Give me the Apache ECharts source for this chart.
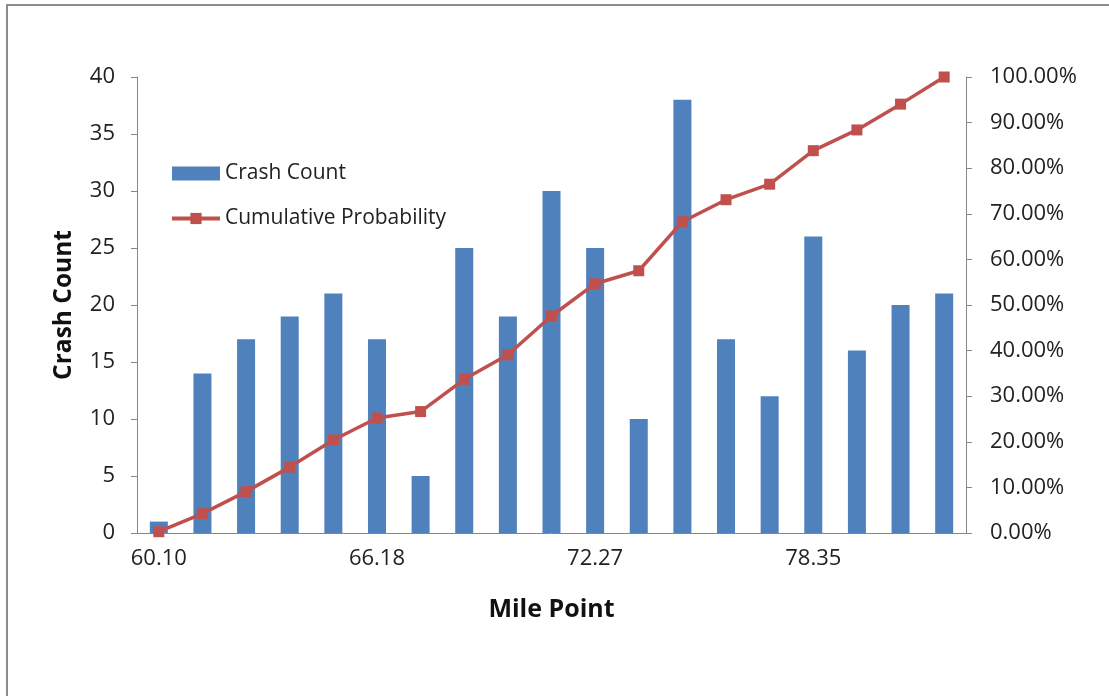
<!DOCTYPE html>
<html><head><meta charset="utf-8">
<script src="https://cdn.jsdelivr.net/npm/echarts@6/dist/echarts.min.js"></script>
<style>html,body{margin:0;padding:0;background:#fff}#c{width:1109px;height:696px}</style>
</head><body><div id="c"></div>
<script>
const milePoints = ['60.10','61.32','62.53','63.75','64.97','66.18','67.40','68.62','69.83','71.05','72.27','73.48','74.70','75.92','77.13','78.35','79.57','80.78','82.00'];
const crashCount = [1,14,17,19,21,17,5,25,19,30,25,10,38,17,12,26,16,20,21];
const cumulativeProb = [0.0028,0.0425,0.0907,0.1445,0.2040,0.2521,0.2663,0.3371,0.3909,0.4759,0.5467,0.5751,0.6827,0.7309,0.7649,0.8385,0.8839,0.9405,1.0000];
const countTicks = {min:0, max:40, interval:5};
const probTicks = {min:0, max:1, interval:0.1};

const font = '"Open Sans", Lato, sans-serif';
const axisGray = '#868686';
const chart = echarts.init(document.getElementById('c'));
chart.setOption({
  animation:false,
  textStyle:{fontFamily:font},
  graphic:[{type:'rect',shape:{x:7,y:5,width:1130,height:720},style:{fill:'none',stroke:'#8c8c8c',lineWidth:2},silent:true}],
  grid:{left:137,right:143,top:77,bottom:163},
  legend:{
    orient:'vertical',left:165,top:158,itemWidth:48,itemHeight:14,itemGap:24,
    textStyle:{fontSize:21,color:'#222',fontFamily:font},
    data:[{name:'Crash Count',icon:'rect'},{name:'Cumulative Probability'}],
    lineStyle:{width:4}
  },
  xAxis:{
    type:'category',data:milePoints,boundaryGap:true,
    name:'Mile Point',nameLocation:'middle',nameGap:64,
    nameTextStyle:{fontSize:25,fontWeight:'bold',color:'#111',fontFamily:font},
    axisLine:{lineStyle:{color:axisGray,width:1}},
    axisTick:{interval:4,length:6,lineStyle:{color:axisGray}},
    axisLabel:{interval:4,fontSize:22,color:'#222',margin:15},
    splitLine:{show:false}
  },
  yAxis:[{
    type:'value',min:countTicks.min,max:countTicks.max,interval:countTicks.interval,
    name:'Crash Count',nameLocation:'middle',nameGap:60,nameRotate:90,
    nameTextStyle:{fontSize:24.5,fontWeight:'bold',color:'#111',fontFamily:font},
    axisLine:{show:true,lineStyle:{color:axisGray}},
    axisTick:{show:true,length:6,lineStyle:{color:axisGray}},
    axisLabel:{fontSize:22,color:'#222',margin:22},
    splitLine:{show:false}
  },{
    type:'value',min:probTicks.min,max:probTicks.max,interval:probTicks.interval,position:'right',
    axisLine:{show:true,lineStyle:{color:axisGray}},
    axisTick:{show:true,length:6,lineStyle:{color:axisGray}},
    axisLabel:{fontSize:22,color:'#222',margin:24,formatter:v=>(v*100).toFixed(2)+'%'},
    splitLine:{show:false}
  }],
  series:[{
    name:'Crash Count',type:'bar',data:crashCount,barWidth:18,
    itemStyle:{color:'#4F81BD'}
  },{
    name:'Cumulative Probability',type:'line',yAxisIndex:1,data:cumulativeProb,
    symbol:'rect',symbolSize:11,
    lineStyle:{color:'#C0504D',width:3.5},itemStyle:{color:'#C0504D'}
  }]
});
</script></body></html>
